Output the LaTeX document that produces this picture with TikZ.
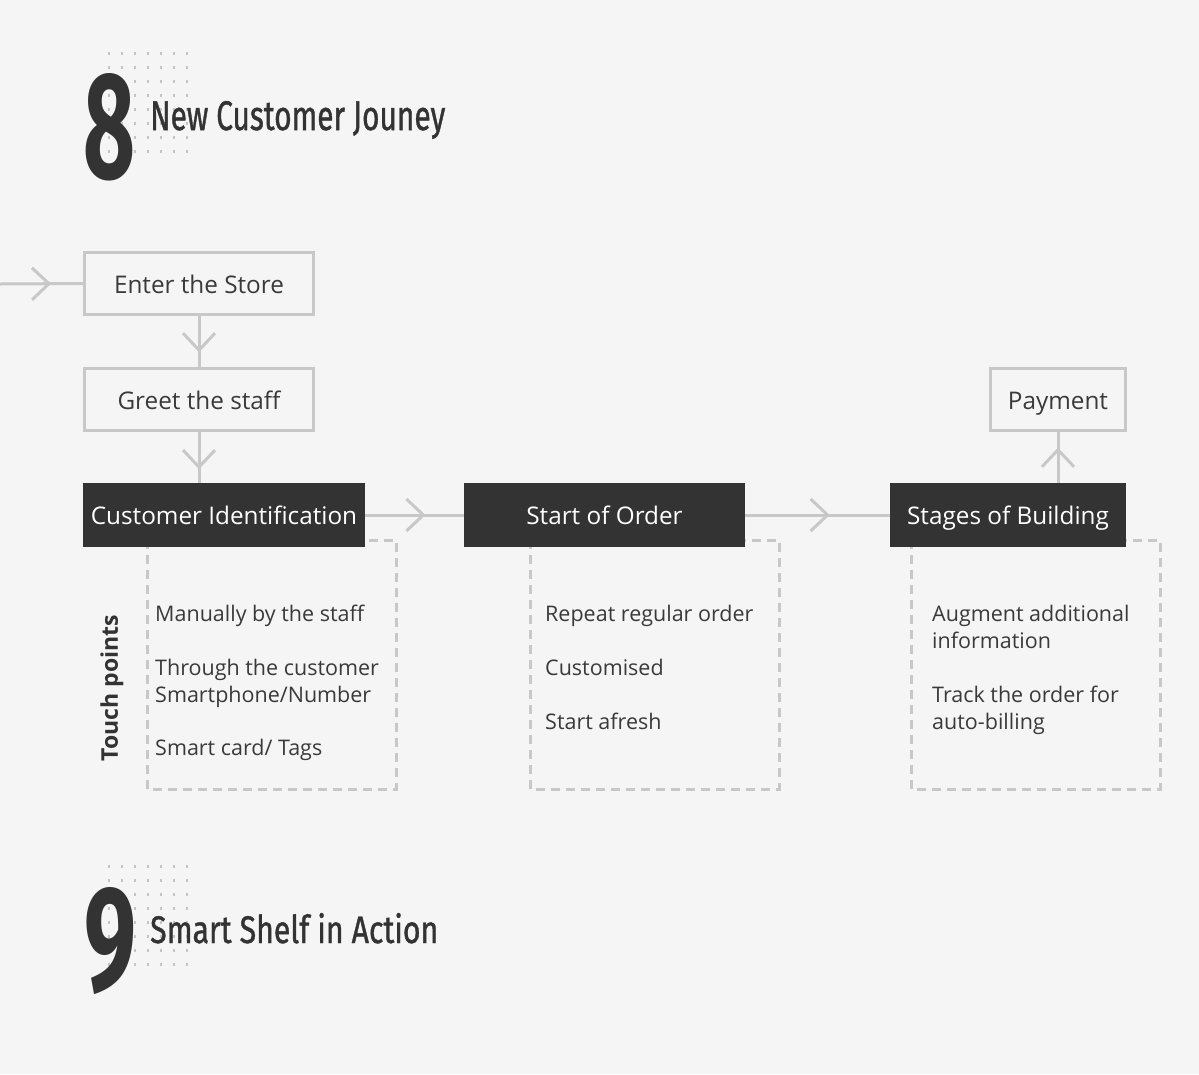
\documentclass[tikz,border=0pt]{standalone}
\usepackage{fontspec}
\setmainfont{Open Sans}
\newfontfamily\headfont[FakeBold=1.2]{Fira Sans}
\newfontfamily\digitfont{Fira Sans}
\usetikzlibrary{decorations.markings}
\definecolor{bg}{HTML}{F5F5F5}
\definecolor{dark}{HTML}{333333}
\definecolor{linec}{HTML}{C8C8C8}
\definecolor{dashc}{HTML}{C8C8C8}
\definecolor{txt}{HTML}{3A3A3A}
\definecolor{dotc}{HTML}{C4C4C4}
\tikzset{
  outbox/.style={draw=linec, line width=3pt, fill=bg, inner sep=0pt, text=txt,
    text height=24pt, text depth=4.4pt, font=\fontsize{24.3}{28}\selectfont},
  darkbox/.style={fill=dark, draw=none, inner sep=0pt, text=white,
    text height=24pt, text depth=4.4pt, font=\fontsize{24.3}{28}\selectfont},
  dashbox/.style={draw=dashc, line width=3pt, dash pattern=on 9pt off 6pt},
  item/.style={anchor=base west, inner sep=0pt, text=txt, font=\fontsize{21.5}{27}\selectfont},
  conn/.style={draw=linec, line width=3pt},
  chev/.style={postaction={decorate, decoration={markings,
      mark=at position #1 with {\draw[linec, line width=3pt, line cap=butt, line join=miter] (-17pt,16pt) -- (0pt,0pt) -- (-17pt,-16pt);}}}},
  headtxt/.style={anchor=base west, inner sep=0pt, text=dark},
}
\begin{document}
\begin{tikzpicture}[x=1pt,y=-1pt]
\useasboundingbox (0,0) rectangle (1199,1074);
\fill[bg] (0,0) rectangle (1199,1074);

% dot grids
\foreach \i in {0,...,6} \foreach \j in {0,...,7} {
  \fill[dotc] (108+13*\i, 51.5+14*\j) rectangle ++(2,3);
  \fill[dotc] (108+13*\i, 864.5+14*\j) rectangle ++(2,3);
}

% headings
\node[headtxt] (n8) at (83,178) {\resizebox{52pt}{105pt}{\digitfont\bfseries 8}};
\node[headtxt] (t8) at (150,130) {\resizebox{295pt}{29pt}{\headfont New Customer Jouney}};
\node[headtxt] (n9) at (84,990) {\resizebox{52pt}{103pt}{\digitfont\bfseries 9}};
\node[headtxt] (t9) at (150,943) {\resizebox{288pt}{30pt}{\headfont Smart Shelf in Action}};

% dashed boxes
\draw[dashbox] (147,540) rectangle (396,789);
\draw[dashbox] (530,540) rectangle (779,789);
\draw[dashbox] (911,540) rectangle (1160,789);

% main boxes
\node[outbox, minimum width=229pt, minimum height=62pt] (enter) at (199,283.5) {Enter the Store};
\node[outbox, minimum width=229pt, minimum height=62pt] (greet) at (199,399.5) {Greet the staff};
\node[darkbox, minimum width=282pt, minimum height=64pt] (cust) at (224,515) {Customer Identification};
\node[darkbox, minimum width=281pt, minimum height=64pt] (start) at (604.5,515) {Start of Order};
\node[darkbox, minimum width=236pt, minimum height=64pt] (stages) at (1008,515) {Stages of Building};
\node[outbox, minimum width=135pt, minimum height=62pt] (pay) at (1058,399.5) {Payment};

% connectors
\coordinate (in) at (0,284);
\draw[conn, chev=0.59] (in) -- (enter.west);
\draw[conn, chev=0.67] (enter.south) -- (greet.north);
\draw[conn, chev=0.69] (greet.south) -- (greet.south |- cust.north);
\draw[conn, chev=0.59] (cust.east) -- (start.west);
\draw[conn, chev=0.57] (start.east) -- (stages.west);
\draw[conn, chev=0.65] (pay.south |- stages.north) -- (pay.south);

% touch points
\node[rotate=90, text=dark, inner sep=0pt, font=\fontsize{23}{27}\bfseries\selectfont] (tp) at (112,688) {Touch points};

% items
\node[item] (a1) at (155,621) {Manually by the staff};
\node[item] (a2) at (155,675) {Through the customer};
\node[item] (a3) at (155,702) {Smartphone/Number};
\node[item] (a4) at (155,755) {Smart card/ Tags};

\node[item] (b1) at (545,621) {Repeat regular order};
\node[item] (b2) at (545,675) {Customised};
\node[item] (b3) at (545,729) {Start afresh};

\node[item] (c1) at (932,621) {Augment additional};
\node[item] (c2) at (932,648) {information};
\node[item] (c3) at (932,702) {Track the order for};
\node[item] (c4) at (932,729) {auto-billing};
\end{tikzpicture}
\end{document}
